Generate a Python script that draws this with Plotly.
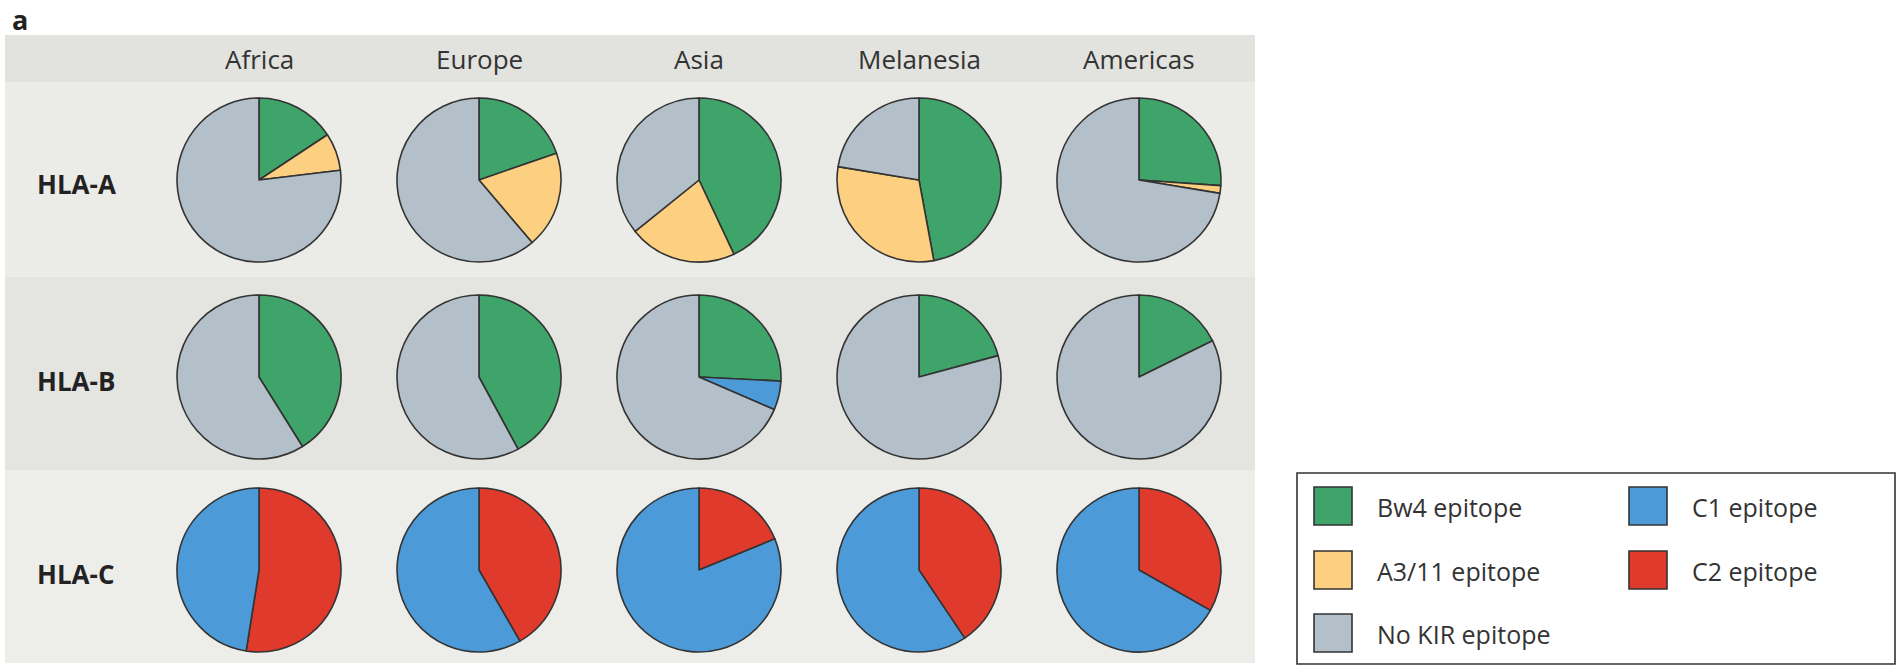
import plotly.graph_objects as go

W, H = 1899, 666

# ---------------- data ----------------
regions = ["Africa", "Europe", "Asia", "Melanesia", "Americas"]
loci = ["HLA-A", "HLA-B", "HLA-C"]

# HLA-A (percent, clockwise from 12 o'clock)
hla_a_bw4 = [15.7, 19.7, 43.0, 47.1, 26.1]
hla_a_a311 = [7.4, 19.1, 21.2, 30.5, 1.5]
hla_a_nokir = [76.9, 61.2, 35.8, 22.4, 72.4]

# HLA-B
hla_b_bw4 = [41.1, 42.1, 25.8, 20.8, 17.7]
hla_b_c1 = [0.0, 0.0, 5.7, 0.0, 0.0]
hla_b_nokir = [58.9, 57.9, 68.5, 79.2, 82.3]

# HLA-C
hla_c_c2 = [52.5, 41.7, 18.8, 40.6, 33.2]
hla_c_c1 = [47.5, 58.3, 81.2, 59.4, 66.8]

legend_labels = ["Bw4 epitope", "A3/11 epitope", "No KIR epitope", "C1 epitope", "C2 epitope"]
legend_colors = ["#3ea46a", "#fdcf80", "#b4c0c9", "#4d9ad8", "#e03a2d"]
color_of = dict(zip(legend_labels, legend_colors))

# slice order per locus (clockwise from top)
pie_series = {
    "HLA-A": [("Bw4 epitope", hla_a_bw4), ("A3/11 epitope", hla_a_a311), ("No KIR epitope", hla_a_nokir)],
    "HLA-B": [("Bw4 epitope", hla_b_bw4), ("C1 epitope", hla_b_c1), ("No KIR epitope", hla_b_nokir)],
    "HLA-C": [("C2 epitope", hla_c_c2), ("C1 epitope", hla_c_c1)],
}

# ---------------- layout geometry (pixels) ----------------
col_x = [259, 479, 699, 919, 1139]
row_y = [180, 377, 570]
pie_r = 82
panel_left, panel_right = 5, 1255
band_edges = [35, 82, 277, 470, 663]
band_colors = ["#e2e2de", "#ebebe7", "#e4e4e0", "#ededea"]

def px(x):
    return x / W

def py(y):
    return 1 - y / H

fig = go.Figure()

for ri, locus in enumerate(loci):
    for ci, region in enumerate(regions):
        labels, values, colors = [], [], []
        for lab, arr in pie_series[locus]:
            v = arr[ci]
            if v > 0:
                labels.append(lab)
                values.append(v)
                colors.append(color_of[lab])
        cx, cy = col_x[ci], row_y[ri]
        fig.add_trace(go.Pie(
            labels=labels, values=values, sort=False, direction="clockwise",
            rotation=0, textinfo="none", hoverinfo="label+percent",
            marker=dict(colors=colors, line=dict(color="#333333", width=1.6)),
            domain=dict(x=[px(cx - pie_r), px(cx + pie_r)],
                        y=[py(cy + pie_r), py(cy - pie_r)]),
            showlegend=False, name=f"{locus} {region}",
        ))

shapes = []
for i, col in enumerate(band_colors):
    shapes.append(dict(type="rect", xref="paper", yref="paper", layer="below",
                       x0=px(panel_left), x1=px(panel_right),
                       y0=py(band_edges[i + 1]), y1=py(band_edges[i]),
                       fillcolor=col, line=dict(width=0)))

annotations = []
annotations.append(dict(text="<b>a</b>", x=px(11), y=py(0), xref="paper", yref="paper",
                        xanchor="left", yanchor="top", showarrow=False, borderpad=0,
                        font=dict(family="Open Sans", size=27, color="#222222")))
for ci, region in enumerate(regions):
    annotations.append(dict(text=region, x=px(col_x[ci]), y=py(59), xref="paper", yref="paper",
                            xanchor="center", yanchor="middle", showarrow=False,
                            font=dict(family="Open Sans", size=26, color="#333333")))
for ri, locus in enumerate(loci):
    annotations.append(dict(text=f"<b>{locus}</b>", x=px(35), y=py(row_y[ri] + 4), xref="paper", yref="paper",
                            xanchor="left", yanchor="middle", showarrow=False,
                            font=dict(family="Open Sans", size=26, color="#222222")))

# legend box
shapes.append(dict(type="rect", xref="paper", yref="paper",
                   x0=px(1297), x1=px(1895), y0=py(664), y1=py(473),
                   fillcolor="white", line=dict(color="#333333", width=1.6)))
leg_pos = [(1314, 506), (1314, 570), (1314, 633), (1629, 506), (1629, 570)]
sw = 38
for (lx, ly), lab, colr in zip(leg_pos, legend_labels, legend_colors):
    shapes.append(dict(type="rect", xref="paper", yref="paper",
                       x0=px(lx), x1=px(lx + sw), y0=py(ly + sw / 2), y1=py(ly - sw / 2),
                       fillcolor=colr, line=dict(color="#333333", width=1.6)))
    annotations.append(dict(text=lab, x=px(lx + 61), y=py(ly + 1), xref="paper", yref="paper",
                            xanchor="left", yanchor="middle", showarrow=False,
                            font=dict(family="Open Sans", size=25, color="#333333")))

fig.update_layout(
    width=W, height=H, margin=dict(l=0, r=0, t=0, b=0),
    paper_bgcolor="white", plot_bgcolor="white",
    shapes=shapes, annotations=annotations, showlegend=False,
)

fig.write_html("out.html")
